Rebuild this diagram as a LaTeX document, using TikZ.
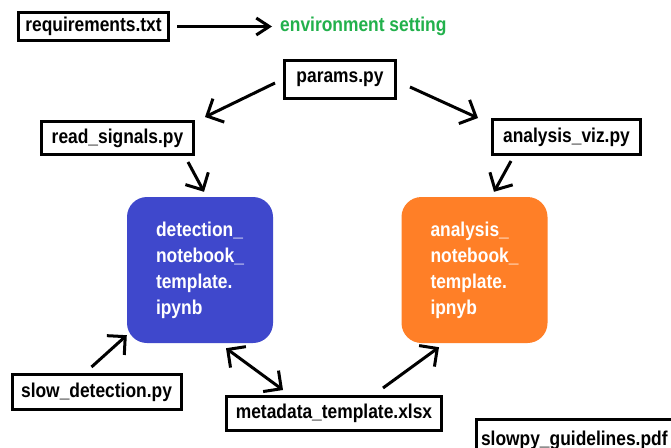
\documentclass[tikz,border=0pt]{standalone}
\usepackage{fontspec}
\setmainfont[FakeStretch=0.87]{Liberation Sans}
\usetikzlibrary{arrows.meta}
\definecolor{pgreen}{RGB}{34,177,76}
\definecolor{pblue}{RGB}{63,72,204}
\definecolor{porange}{RGB}{255,127,39}
\begin{document}
\begin{tikzpicture}[x=1pt,y=-1pt,
  file/.style={draw=black, line width=3pt, inner sep=0pt, fill=white,
    font=\fontsize{20}{24}\selectfont\bfseries},
  nb/.style={rounded corners=20pt, inner sep=0pt, minimum width=146pt, minimum height=146pt,
    text width=88pt, align=left, text=white, font=\fontsize{20}{26}\selectfont\bfseries},
  arr/.style={line width=3pt, -{Straight Barb[length=13pt,width=26pt]}},
  arrs/.style={line width=3pt, -{Straight Barb[length=13pt,width=17pt]}},
  darr/.style={line width=3pt, {Straight Barb[length=13pt,width=26pt]}-{Straight Barb[length=13pt,width=26pt]}}]
\path[use as bounding box] (0,0) rectangle (671,447);
\clip (0,0) rectangle (671,447);
\fill[white] (0,0) rectangle (671,447);

\node[file, minimum width=150pt, minimum height=28pt] (req) at (93.5,26.5) {requirements.txt};
\node[anchor=west, inner sep=0pt, text=pgreen, font=\fontsize{20}{24}\selectfont\bfseries] (env) at (280,26.5) {environment setting};
\node[file, minimum width=111pt, minimum height=38pt] (params) at (340,79.5) {params.py};
\node[file, minimum width=152pt, minimum height=33pt] (read) at (117.5,138) {read\_signals.py};
\node[file, minimum width=148pt, minimum height=35pt] (aviz) at (566.5,137) {analysis\_viz.py};
\node[nb, fill=pblue] (det) at (200,270) {detection\_\\notebook\_\\template.\\ipynb};
\node[nb, fill=porange] (ana) at (474.5,270) {analysis\_\\notebook\_\\template.\\ipnyb};
\node[file, minimum width=169pt, minimum height=35pt] (slow) at (96.5,392) {slow\_detection.py};
\node[file, minimum width=215pt, minimum height=34pt] (meta) at (334,413.5) {metadata\_template.xlsx};
\node[file, anchor=north west, minimum height=42pt, text width=220pt, align=left, inner xsep=5pt] (slowpy) at (474.5,417.5) {slowpy\_guidelines.pdf};

\draw[arrs] ([shift={(7,0)}]req.east) -- ([shift={(-8,0)}]env.west);
\draw[arr] ([shift={(-8,3.5)}]params.west) -- ([shift={(10,-3)}]read.north east);
\draw[arr] ([shift={(13,7.5)}]params.east) -- ([shift={(-13,0)}]aviz.north west);
\draw[arr] ([shift={(70.5,6)}]read.south) -- ([shift={(4,-5)}]det.north);
\draw[arr] ([shift={(-55.5,5)}]aviz.south) -- ([shift={(19.5,-5)}]ana.north);
\draw[arr] ([shift={(-5,-6)}]slow.north) -- ([shift={(0,-8)}]det.south west);
\draw[darr] ([shift={(26,5)}]det.south) -- ([shift={(-51,-5)}]meta.north);
\draw[arr] ([shift={(49,-7)}]meta.north) -- ([shift={(-35.5,4)}]ana.south);
\end{tikzpicture}
\end{document}
